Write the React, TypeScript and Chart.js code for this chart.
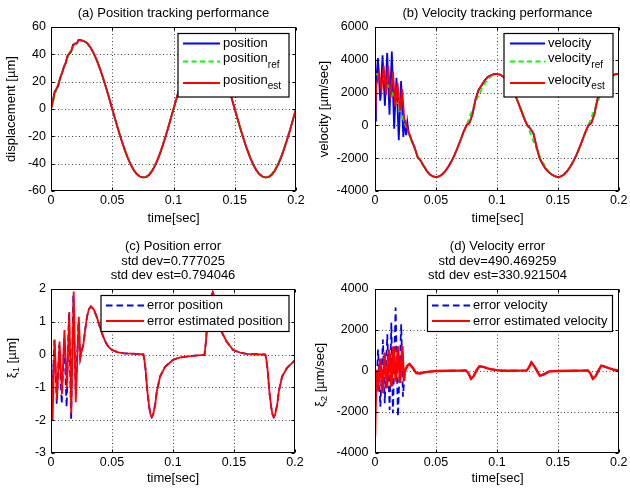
import { useEffect, useRef } from "react";
import { Chart, registerables } from "chart.js";

Chart.register(...registerables);

const FONT = "'Liberation Sans', Arial, Helvetica, sans-serif";
const BLUE = "#0000ff";
const GREEN = "#00ff00";
const RED = "#ff0000";

// ---- ticks ----
const timeTicks = [0, 0.05, 0.1, 0.15, 0.2];
const timeTickLabels = ["0", "0.05", "0.1", "0.15", "0.2"];
const posTicks = [-60, -40, -20, 0, 20, 40, 60];
const velTicks = [-4000, -2000, 0, 2000, 4000, 6000];
const errPosTicks = [-3, -2, -1, 0, 1, 2];
const errVelTicks = [-4000, -2000, 0, 2000, 4000];

// ---- sample times (sec) ----
const tGrid = [
  0, 0.0025, 0.005, 0.0075, 0.01, 0.0125, 0.015, 0.0175, 0.02, 0.0225,
  0.025, 0.0275, 0.03, 0.0325, 0.035, 0.0375, 0.04, 0.0425, 0.045, 0.0475,
  0.05, 0.0525, 0.055, 0.0575, 0.06, 0.0625, 0.065, 0.0675, 0.07, 0.0725,
  0.075, 0.0775, 0.08, 0.0825, 0.085, 0.0875, 0.09, 0.0925, 0.095, 0.0975,
  0.1, 0.1025, 0.105, 0.1075, 0.11, 0.1125, 0.115, 0.1175, 0.12, 0.1225,
  0.125, 0.1275, 0.13, 0.1325, 0.135, 0.1375, 0.14, 0.1425, 0.145, 0.1475,
  0.15, 0.1525, 0.155, 0.1575, 0.16, 0.1625, 0.165, 0.1675, 0.17, 0.1725,
  0.175, 0.1775, 0.18, 0.1825, 0.185, 0.1875, 0.19, 0.1925, 0.195, 0.1975,
  0.2,
];
const tailT = tGrid.slice(12); // from 0.03 sec on

// ---- (a) position [um] ----
const positionRef = [
  0, 7.8, 15.5, 22.7, 29.4, 35.4, 40.5, 44.6, 47.6, 49.4, 50,
  49.4, 47.6, 44.6, 40.5, 35.4, 29.4, 22.7, 15.5, 7.8, 0,
  -7.8, -15.5, -22.7, -29.4, -35.4, -40.5, -44.6, -47.6, -49.4, -50,
  -49.4, -47.6, -44.6, -40.5, -35.4, -29.4, -22.7, -15.5, -7.8, 0,
  7.8, 15.5, 22.7, 29.4, 35.4, 40.5, 44.6, 47.6, 49.4, 50,
  49.4, 47.6, 44.6, 40.5, 35.4, 29.4, 22.7, 15.5, 7.8, 0,
  -7.8, -15.5, -22.7, -29.4, -35.4, -40.5, -44.6, -47.6, -49.4, -50,
  -49.4, -47.6, -44.6, -40.5, -35.4, -29.4, -22.7, -15.5, -7.8, 0,
];
const posEarlyT = [
  0, 0.0015, 0.003, 0.0045, 0.006, 0.0075, 0.009, 0.0105, 0.012, 0.0135,
  0.015, 0.0165, 0.018, 0.0195, 0.021, 0.0225, 0.024, 0.0255, 0.027, 0.0285,
];
const positionEarly = [
  0, 6, 12.9, 14.5, 17, 23, 26, 31, 33.5, 39,
  40.5, 42, 47, 47.5, 47.8, 50.5, 50.3, 50, 49.6, 48.8,
];
const positionEstEarly = [
  0, 5.5, 12, 15, 18, 22.5, 26.5, 30.5, 34, 38.5,
  41, 42.5, 46.5, 48, 48, 50.3, 50.5, 50.1, 49.6, 48.8,
];
const positionTail = [
  47.6, 44.6, 40.5, 35.4, 29.4, 22.7, 15.5, 7.8, 0,
  -7.8, -15.5, -22.7, -29.4, -35.4, -40.5, -44.6, -47.6, -49.4,
  -50, -49.8, -48.3, -45.4, -41.3, -36.1, -29.9, -23.0, -15.7, -7.9, 0,
  7.8, 15.5, 22.7, 29.4, 35.4, 40.5, 44.6, 47.6, 49.4,
  50, 49.4, 47.6, 44.6, 40.5, 35.4, 29.4, 22.7, 15.5, 7.8,
  0, -7.8, -15.5, -22.7, -29.4, -35.4, -40.5, -44.6, -47.6, -49.4,
  -50, -49.8, -48.3, -45.4, -41.3, -36.1, -29.9, -23.0, -15.7, -7.9, 0,
];

// ---- (b) velocity [um/sec] ----
const velocityRef = [
  3142, 3103, 2988, 2799, 2542, 2222, 1847, 1426, 971, 491, 0,
  -491, -971, -1426, -1847, -2222, -2542, -2799, -2988, -3103, -3142,
  -3103, -2988, -2799, -2542, -2222, -1847, -1426, -971, -491, 0,
  491, 971, 1426, 1847, 2222, 2542, 2799, 2988, 3103, 3142,
  3103, 2988, 2799, 2542, 2222, 1847, 1426, 971, 491, 0,
  -491, -971, -1426, -1847, -2222, -2542, -2799, -2988, -3103, -3142,
  -3103, -2988, -2799, -2542, -2222, -1847, -1426, -971, -491, 0,
  491, 971, 1426, 1847, 2222, 2542, 2799, 2988, 3103, 3142,
];
const velEarlyT = [
  0, 0.0008, 0.0024, 0.0043, 0.0062, 0.0081, 0.01, 0.0119, 0.0138,
  0.0157, 0.0176, 0.0195, 0.0214, 0.0232, 0.0245, 0.0255, 0.0265, 0.0275,
];
const velocityEarly = [
  300, 2500, 4100, 1500, 4280, 1200, 4420, 650, 4500,
  -200, 2900, -900, 2700, -700, 300, -600, 200, -400,
];
const velEstEarlyT = [
  0, 0.001, 0.0033, 0.0052, 0.0071, 0.009, 0.0109, 0.0128, 0.0147,
  0.0166, 0.0185, 0.0204, 0.0223, 0.024, 0.0255, 0.0265, 0.028,
];
const velocityEstEarly = [
  100, 2400, 3200, 2100, 3650, 1850, 3600, 1650, 3300,
  1150, 2600, 900, 2200, 400, 100, -200, -500,
];
const velocityTail = [
  -900, -1350, -1950, -2150, -2480, -2780, -2990, -3110, -3150,
  -3110, -2990, -2800, -2540, -2220, -1840, -1400, -920, -430,
  0, 150, 700, 1600, 2160, 2450, 2750, 2960, 3060, 3120, 3140,
  3100, 2990, 2800, 2540, 2220, 1840, 1380, 900, 400,
  0, -200, -500, -1300, -2000, -2350, -2650, -2850, -3000, -3100, -3150,
  -3110, -2990, -2800, -2540, -2220, -1840, -1400, -920, -430,
  0, 150, 700, 1600, 2160, 2450, 2750, 2960, 3060, 3120, 3140,
];

// ---- (c) position error [um] ----
const errPosEarlyT = [
  0, 0.0012, 0.0028, 0.0047, 0.0067, 0.0088, 0.0108, 0.0128, 0.0147,
  0.0165, 0.0183, 0.0203, 0.0225, 0.024,
];
const errPosEarly = [
  0, -1.3, 0.45, -1.5, 0.3, -1.5, 0.5, -1.6, 1.25,
  -2.0, 1.8, -1.2, 1.0, -0.1,
];
const errPosEstEarlyT = [
  0, 0.0013, 0.003, 0.0049, 0.007, 0.009, 0.011, 0.013, 0.015,
  0.0166, 0.0186, 0.0203, 0.0228, 0.024,
];
const errPosEstEarly = [
  0, -2.0, 0.45, -1.4, 0.4, -1.2, 0.75, -1.0, 1.3,
  -1.8, 1.92, -1.45, 1.15, -0.1,
];
const errPosTailT = [
  0.025, 0.0265, 0.028, 0.0295, 0.031, 0.0327, 0.035, 0.0375, 0.04, 0.0425,
  0.045, 0.0475, 0.05, 0.055, 0.06, 0.065, 0.07, 0.0757, 0.0765, 0.0775,
  0.079, 0.0805, 0.0815, 0.0826, 0.0838, 0.0855, 0.0867, 0.0894, 0.0935, 0.1,
  0.105, 0.111, 0.118, 0.1258, 0.127, 0.128, 0.1295, 0.131, 0.1326, 0.134,
  0.1355, 0.1375, 0.1398, 0.1439, 0.1493, 0.155, 0.1603, 0.168, 0.1757, 0.1765,
  0.1775, 0.179, 0.1805, 0.1815, 0.1826, 0.1838, 0.1855, 0.1867, 0.1894, 0.1935,
  0.2,
];
const errPosTail = [
  0.1, 0.3, 0.75, 1.15, 1.38, 1.47, 1.38, 1.15, 0.85, 0.58,
  0.36, 0.22, 0.14, 0.07, 0.04, 0.03, 0.02, 0.01, -0.15, -0.45,
  -1.13, -1.6, -1.82, -1.91, -1.82, -1.5, -1.13, -0.67, -0.37, -0.16,
  -0.09, -0.06, -0.03, -0.01, 0.4, 0.9, 1.4, 1.75, 1.9, 1.75,
  1.4, 1.0, 0.7, 0.4, 0.14, 0.06, 0.02, 0.01, 0, -0.15,
  -0.45, -1.13, -1.6, -1.82, -1.91, -1.82, -1.5, -1.13, -0.67, -0.4,
  -0.17,
];

// ---- (d) velocity error [um/sec] ----
const errVelEarlyT = [
  0, 0.0012, 0.0025, 0.0044, 0.0065, 0.008, 0.0101, 0.012, 0.0134,
  0.0147, 0.0169, 0.0188, 0.0215, 0.0229,
];
const errVelEarly = [
  0, -900, 1050, -1740, 1540, -1575, 1790, -1900, 2360,
  -2065, 3100, -2230, 2280, -1250,
];
const errVelEstEarlyT = [
  0, 0.0011, 0.0025, 0.0043, 0.0062, 0.0079, 0.0098, 0.0116, 0.0134,
  0.0151, 0.0171, 0.0188, 0.0206, 0.0224, 0.0237,
];
const errVelEstEarly = [
  -3200, 60, -1000, 600, -1080, 900, -850, 1050, -760,
  1200, -520, 1200, -600, 1220, -500,
];
const errVelTailT = [
  0.0245, 0.0265, 0.0284, 0.031, 0.0338, 0.037, 0.0406, 0.045, 0.05, 0.06,
  0.07, 0.0745, 0.0765, 0.0788, 0.081, 0.0835, 0.0856, 0.089, 0.0937, 0.1,
  0.1046, 0.11, 0.12, 0.1245, 0.1265, 0.1283, 0.131, 0.1352, 0.139, 0.1428,
  0.15, 0.16, 0.17, 0.1745, 0.1765, 0.1787, 0.181, 0.1835, 0.1856, 0.189,
  0.1959, 0.2,
];
const errVelTail = [
  0, 250, 340, 150, -100, -120, -60, -30, 0, 10,
  20, 30, -100, -380, -250, 50, 230, 200, 100, 40,
  15, 10, 20, 30, 200, 420, 200, -230, -150, -20,
  0, 10, 20, 30, -100, -380, -250, 50, 260, 200,
  60, 30,
];

const zip = (ts: number[], vs: number[]) => ts.map((t, i) => ({ x: t, y: vs[i] }));

type Part = { t: string; sub?: boolean };
interface Series { color: string; dash: number[]; width: number; pts: { x: number; y: number }[] }
interface LegendRow { color: string; dash: number[]; y: number; textY: number; label: Part[] }
interface Panel {
  ox: number; oy: number; w: number; h: number;
  area: [number, number, number, number];
  yTicks: number[]; tickPad: number;
  titles: { text: string; y: number }[];
  yLabel: Part[]; yLabelX: number; yLabelY: number;
  xLabelY: number;
  legendBox: [number, number, number, number];
  legendLine: [number, number]; legendTextX: number;
  legendRows: LegendRow[];
  series: Series[];
}

const DASH_GREEN = [5, 3.5];
const DASH_BLUE = [6.5, 4];

const panels: Panel[] = [
  {
    ox: 0, oy: 0, w: 315, h: 230,
    area: [51, 27, 296, 191], yTicks: posTicks, tickPad: 5,
    titles: [{ text: "(a) Position tracking performance", y: 13.5 }],
    yLabel: [{ t: "displacement [µm]" }], yLabelX: 11, yLabelY: 109,
    xLabelY: 218.5,
    legendBox: [178, 33.5, 289, 97], legendLine: [183, 220], legendTextX: 223,
    legendRows: [
      { color: BLUE, dash: [], y: 43.5, textY: 43.5, label: [{ t: "position" }] },
      { color: GREEN, dash: DASH_GREEN, y: 61.5, textY: 58.5, label: [{ t: "position" }, { t: "ref", sub: true }] },
      { color: RED, dash: [], y: 83, textY: 80, label: [{ t: "position" }, { t: "est", sub: true }] },
    ],
    series: [
      { color: BLUE, dash: [], width: 1.8, pts: zip([...posEarlyT, ...tailT], [...positionEarly, ...positionTail]) },
      { color: GREEN, dash: DASH_GREEN, width: 1.8, pts: zip(tGrid, positionRef) },
      { color: RED, dash: [], width: 1.8, pts: zip([...posEarlyT, ...tailT], [...positionEstEarly, ...positionTail]) },
    ],
  },
  {
    ox: 315, oy: 0, w: 315, h: 230,
    area: [375, 27, 620, 191], yTicks: velTicks, tickPad: 6.5,
    titles: [{ text: "(b) Velocity tracking performance", y: 13.5 }],
    yLabel: [{ t: "velocity [µm/sec]" }], yLabelX: 324.5, yLabelY: 109,
    xLabelY: 218.5,
    legendBox: [504, 33.5, 613, 97], legendLine: [510, 545], legendTextX: 548,
    legendRows: [
      { color: BLUE, dash: [], y: 43.5, textY: 43.5, label: [{ t: "velocity" }] },
      { color: GREEN, dash: DASH_GREEN, y: 61.5, textY: 58.5, label: [{ t: "velocity" }, { t: "ref", sub: true }] },
      { color: RED, dash: [], y: 83, textY: 80, label: [{ t: "velocity" }, { t: "est", sub: true }] },
    ],
    series: [
      { color: BLUE, dash: [], width: 1.8, pts: zip([...velEarlyT, ...tailT], [...velocityEarly, ...velocityTail]) },
      { color: GREEN, dash: DASH_GREEN, width: 1.8, pts: zip(tGrid, velocityRef) },
      { color: RED, dash: [], width: 1.8, pts: zip([...velEstEarlyT, ...tailT], [...velocityEstEarly, ...velocityTail]) },
    ],
  },
  {
    ox: 0, oy: 230, w: 315, h: 262,
    area: [51, 289, 295, 453], yTicks: errPosTicks, tickPad: 5,
    titles: [
      { text: "(c) Position error", y: 246.5 },
      { text: "std dev=0.777025", y: 261 },
      { text: "std dev est=0.794046", y: 275.5 },
    ],
    yLabel: [{ t: "ξ" }, { t: "1", sub: true }, { t: " [µm]" }], yLabelX: 12, yLabelY: 358,
    xLabelY: 478.5,
    legendBox: [101, 295.5, 289, 331.5], legendLine: [106, 144], legendTextX: 147,
    legendRows: [
      { color: BLUE, dash: DASH_BLUE, y: 305.5, textY: 305.5, label: [{ t: "error position" }] },
      { color: RED, dash: [], y: 321, textY: 321, label: [{ t: "error estimated position" }] },
    ],
    series: [
      { color: BLUE, dash: DASH_BLUE, width: 1.8, pts: zip([...errPosEarlyT, ...errPosTailT], [...errPosEarly, ...errPosTail]) },
      { color: RED, dash: [], width: 1.8, pts: zip([...errPosEstEarlyT, ...errPosTailT], [...errPosEstEarly, ...errPosTail]) },
    ],
  },
  {
    ox: 315, oy: 230, w: 315, h: 262,
    area: [375, 289, 620, 453], yTicks: errVelTicks, tickPad: 6.5,
    titles: [
      { text: "(d) Velocity error", y: 246.5 },
      { text: "std dev=490.469259", y: 261 },
      { text: "std dev est=330.921504", y: 275.5 },
    ],
    yLabel: [{ t: "ξ" }, { t: "2", sub: true }, { t: " [µm/sec]" }], yLabelX: 320, yLabelY: 375,
    xLabelY: 478.5,
    legendBox: [427.5, 295.5, 612.5, 331.5], legendLine: [432, 470], legendTextX: 473,
    legendRows: [
      { color: BLUE, dash: DASH_BLUE, y: 305.5, textY: 305.5, label: [{ t: "error velocity" }] },
      { color: RED, dash: [], y: 321, textY: 321, label: [{ t: "error estimated velocity" }] },
    ],
    series: [
      { color: BLUE, dash: DASH_BLUE, width: 1.8, pts: zip([...errVelEarlyT, ...errVelTailT], [...errVelEarly, ...errVelTail]) },
      { color: RED, dash: [], width: 2.4, pts: zip([...errVelEstEarlyT, ...errVelTailT], [...errVelEstEarly, ...errVelTail]) },
    ],
  },
];

function drawRich(ctx: CanvasRenderingContext2D, parts: Part[], x: number, y: number, align: "left" | "center", size: number, subSize: number, subDy: number) {
  const widths = parts.map((p) => {
    ctx.font = `${p.sub ? subSize : size}px ${FONT}`;
    return ctx.measureText(p.t).width;
  });
  const total = widths.reduce((a, b) => a + b, 0);
  let cx = align === "center" ? x - total / 2 : x;
  ctx.textAlign = "left";
  ctx.textBaseline = "middle";
  parts.forEach((p, i) => {
    ctx.font = `${p.sub ? subSize : size}px ${FONT}`;
    ctx.fillText(p.t, cx, p.sub ? y + subDy : y);
    cx += widths[i];
  });
}

function makeDecor(p: Panel) {
  return {
    id: "matlabDecor",
    beforeDatasetsDraw(chart: Chart) {
      const ctx = chart.ctx;
      const a = chart.chartArea;
      const xs = chart.scales.x;
      const ys = chart.scales.y;
      ctx.save();
      ctx.strokeStyle = "#444";
      ctx.lineWidth = 1;
      ctx.setLineDash([1, 2.5]);
      timeTicks.slice(1, -1).forEach((v) => {
        const px = Math.round(xs.getPixelForValue(v)) + 0.5;
        ctx.beginPath();
        ctx.moveTo(px, a.top);
        ctx.lineTo(px, a.bottom);
        ctx.stroke();
      });
      p.yTicks.slice(1, -1).forEach((v) => {
        const py = Math.round(ys.getPixelForValue(v)) + 0.5;
        ctx.beginPath();
        ctx.moveTo(a.left, py);
        ctx.lineTo(a.right, py);
        ctx.stroke();
      });
      ctx.restore();
    },
    afterDatasetsDraw(chart: Chart) {
      const ctx = chart.ctx;
      const a = chart.chartArea;
      const xs = chart.scales.x;
      const ys = chart.scales.y;
      const L = Math.round(a.left) + 0.5;
      const R = Math.round(a.right) - 0.5;
      const T = Math.round(a.top) + 0.5;
      const B = Math.round(a.bottom) - 0.5;
      ctx.save();
      ctx.setLineDash([]);
      ctx.strokeStyle = "#000";
      ctx.lineWidth = 1;
      ctx.strokeRect(L, T, R - L, B - T);
      // inward tick marks
      ctx.beginPath();
      timeTicks.forEach((v) => {
        const px = Math.round(xs.getPixelForValue(v)) + 0.5;
        ctx.moveTo(px, B); ctx.lineTo(px, B - 3);
        ctx.moveTo(px, T); ctx.lineTo(px, T + 3);
      });
      p.yTicks.forEach((v) => {
        const py = Math.round(ys.getPixelForValue(v)) + 0.5;
        ctx.moveTo(L, py); ctx.lineTo(L + 3, py);
        ctx.moveTo(R, py); ctx.lineTo(R - 3, py);
      });
      ctx.stroke();

      // legend
      const [bl, bt, br, bb] = p.legendBox;
      const lx = bl - p.ox, ly = bt - p.oy;
      ctx.fillStyle = "#fff";
      ctx.fillRect(lx, ly, br - bl, bb - bt);
      ctx.strokeStyle = "#000";
      ctx.lineWidth = 1.2;
      ctx.strokeRect(lx, ly, br - bl, bb - bt);
      p.legendRows.forEach((r) => {
        ctx.strokeStyle = r.color;
        ctx.lineWidth = 1.8;
        ctx.setLineDash(r.dash);
        ctx.beginPath();
        ctx.moveTo(p.legendLine[0] - p.ox, r.y - p.oy);
        ctx.lineTo(p.legendLine[1] - p.ox, r.y - p.oy);
        ctx.stroke();
        ctx.setLineDash([]);
        ctx.fillStyle = "#000";
        drawRich(ctx, r.label, p.legendTextX - p.ox, r.textY - p.oy, "left", 13, 10, 6.5);
      });

      // titles and axis labels
      ctx.fillStyle = "#000";
      const cx = (p.area[0] + p.area[2]) / 2 - p.ox;
      p.titles.forEach((t) => drawRich(ctx, [{ t: t.text }], cx, t.y - p.oy, "center", 13, 10, 5));
      drawRich(ctx, [{ t: "time[sec]" }], cx, p.xLabelY - p.oy, "center", 13, 10, 5);
      ctx.translate(p.yLabelX - p.ox, p.yLabelY - p.oy);
      ctx.rotate(-Math.PI / 2);
      drawRich(ctx, p.yLabel, 0, 0, "center", 13, 9.5, 4.5);
      ctx.restore();
    },
  };
}

function PanelChart({ p }: { p: Panel }) {
  const canvasRef = useRef<HTMLCanvasElement>(null);

  useEffect(() => {
    if (!canvasRef.current) return;
    const yMin = p.yTicks[0];
    const yMax = p.yTicks[p.yTicks.length - 1];
    const chart = new Chart(canvasRef.current, {
      type: "line",
      data: {
        datasets: p.series.map((s, i) => ({
          label: "s" + i,
          data: s.pts,
          borderColor: s.color,
          borderWidth: s.width,
          borderDash: s.dash,
          pointRadius: 0,
          tension: 0,
          fill: false,
          order: p.series.length - i,
        })),
      },
      options: {
        animation: false,
        responsive: false,
        events: [],
        layout: {
          padding: { left: 0, top: p.area[1] - p.oy, right: p.ox + p.w - p.area[2], bottom: 0 },
        },
        plugins: { legend: { display: false }, title: { display: false }, tooltip: { enabled: false } },
        scales: {
          x: {
            type: "linear",
            min: 0,
            max: 0.2,
            grid: { display: false, drawTicks: false },
            border: { display: false },
            afterBuildTicks: (scale: any) => {
              scale.ticks = timeTicks.map((value) => ({ value }));
            },
            afterFit: (scale: any) => {
              scale.height = p.oy + p.h - p.area[3];
            },
            ticks: {
              autoSkip: false,
              maxRotation: 0,
              padding: 2.5,
              color: "#000",
              font: { family: FONT, size: 12.5 },
              callback: (v: any) => timeTickLabels[timeTicks.indexOf(Number(v))] ?? String(v),
            },
          },
          y: {
            type: "linear",
            min: yMin,
            max: yMax,
            grid: { display: false, drawTicks: false },
            border: { display: false },
            afterBuildTicks: (scale: any) => {
              scale.ticks = p.yTicks.map((value) => ({ value }));
            },
            afterFit: (scale: any) => {
              scale.width = p.area[0] - p.ox;
            },
            ticks: {
              autoSkip: false,
              padding: p.tickPad,
              color: "#000",
              font: { family: FONT, size: 12.5 },
              callback: (v: any) => String(v),
            },
          },
        },
      },
      plugins: [makeDecor(p)],
    });
    return () => chart.destroy();
  }, [p]);

  return (
    <canvas
      ref={canvasRef}
      width={p.w}
      height={p.h}
      style={{ position: "absolute", left: p.ox, top: p.oy, width: p.w, height: p.h }}
    />
  );
}

export default function App() {
  return (
    <div style={{ position: "absolute", left: 0, top: 0, width: 630, height: 492, background: "#fff", overflow: "hidden" }}>
      {panels.map((p, i) => (
        <PanelChart key={i} p={p} />
      ))}
    </div>
  );
}
